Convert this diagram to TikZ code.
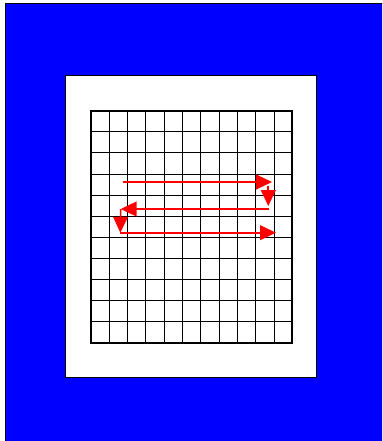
\documentclass[tikz,border=0pt]{standalone}
\usepackage{xcolor}
\usetikzlibrary{arrows.meta}

\begin{document}
\begin{tikzpicture}[
    x=0.03cm, y=-0.03cm,
    panel/.style={draw=black, line width=0.5pt},
    cell/.style={draw=black, line width=0.6pt},
    rowline/.style={draw=black, line width=0.8pt},
    border/.style={draw=black, line width=1.7pt},
    scan/.style={-{Triangle[length=13.5pt,width=12.5pt]}, red, line width=1.4pt}
]
\useasboundingbox (0,0) rectangle (382,441);
\clip (0,0) rectangle (382,441);

% outer blue frame and white mat
\path[panel, fill=blue]  (5,3) rectangle (400,460);
\path[panel, fill=white] (65.7,75) rectangle (316,377.3);

% pixel grid 11 x 11
\foreach \i in {1,...,10} {
  \draw[cell] ({90.7+18.33*\i},110.7) -- ({90.7+18.33*\i},343);
  \draw[rowline] (90.7,{110.7+21.12*\i}) -- (292.3,{110.7+21.12*\i});
}
\draw[border] (90.7,110.7) rectangle (292.3,343);

% raster scan path
\coordinate (row1a) at (123,182);
\coordinate (row1b) at (272,182);
\coordinate (down1a) at (268.3,186);
\coordinate (down1b) at (268.3,206);
\coordinate (row2a) at (269,209);
\coordinate (row2b) at (120.7,209);
\coordinate (down2b) at (120.3,232.7);
\coordinate (row3b) at (276,232.7);

\draw[scan] (row1a)  -- (row1b);
\draw[scan] (down1a) -- (down1b);
\draw[scan] (row2a)  -- (row2b);
\draw[scan] (row2b)  -- (down2b);
\draw[scan] (down2b) -- (row3b);
\end{tikzpicture}
\end{document}
